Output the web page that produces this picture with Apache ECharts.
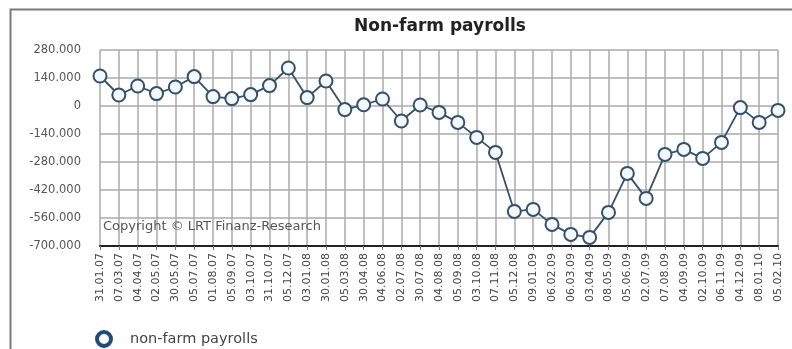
<!DOCTYPE html>
<html>
<head>
<meta charset="utf-8">
<script src="https://cdn.jsdelivr.net/npm/echarts@6/dist/echarts.min.js"></script>
<style>html,body{margin:0;padding:0;background:#fff;}#c{width:792px;height:349px;}</style>
</head>
<body>
<div id="c"></div>
<script>
const categories = ['31.01.07','07.03.07','04.04.07','02.05.07','30.05.07','05.07.07','01.08.07','05.09.07','03.10.07','31.10.07','05.12.07',
  '03.01.08','30.01.08','05.03.08','30.04.08','04.06.08','02.07.08','30.07.08','04.08.08','05.09.08','03.10.08','07.11.08','05.12.08',
  '09.01.09','06.02.09','06.03.09','03.04.09','08.05.09','05.06.09','02.07.09','07.08.09','04.09.09','02.10.09','06.11.09','04.12.09',
  '08.01.10','05.02.10'];
// values in thousands
const payrolls = [150,55,100,62,95,147,47,37,57,102,190,
  42,125,-18,6,35,-75,5,-32,-82,-157,-232,-527,
  -517,-592,-642,-657,-532,-337,-462,-242,-217,-262,-182,-8,
  -82,-22];
const yTicks = {min:-700, max:280, interval:140};
const seriesName = 'non-farm payrolls';
const titleText = 'Non-farm payrolls';
const copyrightText = 'Copyright \u00A9 LRT Finanz-Research';

const chart = echarts.init(document.getElementById('c'), null, {renderer:'canvas'});
const FONT = 'DejaVu Sans';
chart.setOption({
  animation:false,
  backgroundColor:'#fff',
  title:{text:titleText,left:349,top:13,textStyle:{fontFamily:FONT,fontSize:17,fontWeight:'bold',color:'#222'}},
  grid:{left:100,right:14,top:50,bottom:103},
  legend:{show:true,left:90,top:325,icon:'circle',itemWidth:14,itemHeight:14,
    itemStyle:{color:'#fff',borderColor:'#1f4c78',borderWidth:4},
    textStyle:{fontFamily:FONT,fontSize:14.5,color:'#444',padding:[0,0,0,14]},
    data:[seriesName]},
  xAxis:{type:'category',data:categories,boundaryGap:false,
    axisLine:{show:true,onZero:false,lineStyle:{color:'#222',width:2}},
    axisTick:{show:true,length:4,interval:0,lineStyle:{color:'#777'}},
    axisLabel:{rotate:90,interval:0,margin:7,fontFamily:FONT,fontSize:11,color:'#444'},
    splitLine:{show:true,interval:0,lineStyle:{color:'#aaa',width:1.5}}},
  yAxis:{type:'value',min:yTicks.min,max:yTicks.max,interval:yTicks.interval,
    axisLine:{show:false},axisTick:{show:false},
    axisLabel:{margin:19,fontFamily:FONT,fontSize:11.5,color:'#555',
      formatter:v=>v===0?'0':(v+'.000')},
    splitLine:{show:true,lineStyle:{color:'#aaa',width:1.5}}},
  series:[{name:seriesName,type:'line',data:payrolls,symbol:'circle',symbolSize:13,
    lineStyle:{color:'#34506b',width:1.8},
    itemStyle:{color:'#f3f8fc',borderColor:'#34506b',borderWidth:2},
    z:5}],
  graphic:[
    {type:'rect',left:8,top:7,shape:{width:800,height:400},style:{fill:'none',stroke:'#7a7a7a',lineWidth:2},silent:true},
    {type:'text',left:103,top:220,style:{text:copyrightText,font:'13px "DejaVu Sans"',fill:'#555'},z:10}
  ]
});
</script>
</body>
</html>
